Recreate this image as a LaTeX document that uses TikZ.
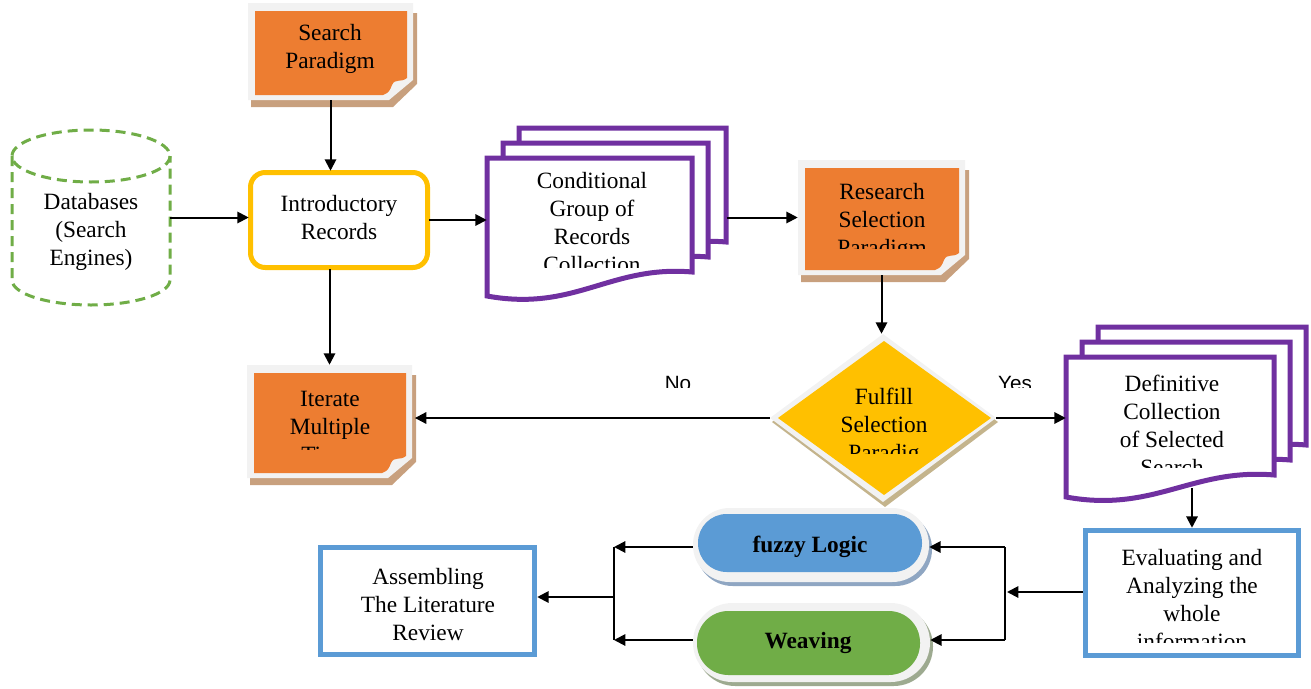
\documentclass[tikz,border=0pt]{standalone}
\usepackage{fontspec}
\setmainfont{Liberation Serif}
\newfontfamily\sansf{Liberation Sans}
\usetikzlibrary{arrows.meta,fit,calc}
\definecolor{orangeN}{HTML}{ED7D31}
\definecolor{goldN}{HTML}{FFC000}
\definecolor{purpleN}{HTML}{7030A0}
\definecolor{greenN}{HTML}{70AD47}
\definecolor{blueN}{HTML}{5B9BD5}
\definecolor{lightg}{HTML}{F2F2F2}
\definecolor{notesh}{HTML}{C8A07E}
\definecolor{diash}{HTML}{C4B48C}
\definecolor{fzsh}{HTML}{8FA6C2}
\definecolor{wvsh}{HTML}{9DAA90}
\tikzset{
  arr/.style={line width=1.5pt,-{Triangle[length=8.5pt,width=8.5pt]}},
  ln/.style={line width=1.5pt},
  txt/.style={align=center,inner sep=0pt,font=\fontsize{17.5}{21}\selectfont},
  btxt/.style={inner sep=0pt,font=\fontsize{17.5}{21}\selectfont\bfseries},
  lbl/.style={inner sep=0pt,font=\sansf\fontsize{15.5}{18}\selectfont},
  docshape/.style={draw=purpleN,fill=white,line width=3.75pt},
  bluebox/.style={draw=blueN,fill=white,line width=3.75pt},
}
\newcommand{\mynote}[5]{%
  \fill[notesh] ({#1+4},{#2+10}) -- ({#3+4},{#2+10}) -- ({#3+4},{#4-16}) -- ({#3-20},{#4+7}) -- ({#1+3},{#4+7}) -- cycle;
  \fill[lightg] (#1,#2) -- (#3,#2) -- ({#3},{#4-20}) -- ({#3-24},{#4}) -- (#1,#4) -- cycle;
  \fill[orangeN] ({#1+7},{#2+8}) -- ({#3-6},{#2+8}) -- ({#3-6},{#4-22})
     .. controls ({#3-12},{#4-17}) and ({#3-18},{#4-22}) .. ({#3-21},{#4-15})
     .. controls ({#3-23},{#4-10}) and ({#3-24},{#4-7}) .. ({#3-30},{#4-5})
     -- ({#1+7},{#4-5}) -- cycle;
  \node[fit={(#1,#2) (#3,#4)},inner sep=0pt] (#5) {};
}
% document shape: x1,y1 (top-left), x2 (right), yR (bottom right), yL (bottom left)
\newcommand{\mydoc}[5]{%
  \path[docshape] (#1,#2) -- (#3,#2) -- (#3,#4)
     .. controls ({#3-82},{#4-7}) and ({#1+88},{#5+16}) .. (#1,#5) -- cycle;
}
\begin{document}
\begin{tikzpicture}[x=0.75pt,y=-0.75pt]
\useasboundingbox (0,0) rectangle (1311,689);

% ---- Search Paradigm
\mynote{248}{3}{413}{100}{sp}
\node[txt] (sptxt) at (330,48.5) {Search\\Paradigm};

% ---- Databases cylinder
\draw[greenN,line width=2.25pt,dash pattern=on 7.5pt off 4.5pt]
  (91,156) ellipse [x radius=79,y radius=26];
\draw[greenN,line width=2.25pt,dash pattern=on 7.5pt off 4.5pt]
  (12,156) -- (12,280) arc[start angle=180,end angle=360,x radius=79,y radius=-25] -- (170,156);
\node[fit={(12,130) (170,305)},inner sep=0pt] (db) {};
\node[txt] (dbtxt) at (91,232) {Databases\\(Search\\Engines)};

% ---- Introductory Records
\draw[goldN,fill=white,line width=3.75pt,rounded corners=11pt] (250.5,172.5) rectangle (427.5,267.5);
\node[fit={(249,171) (429,269)},inner sep=0pt] (intro) {};
\node[txt] (introtxt) at (339,218) {Introductory\\Records};

% ---- Conditional Group stack
\mydoc{519}{128}{726}{242}{266}
\mydoc{503}{143}{708}{257}{281}
\mydoc{487}{158}{692}{272}{296}
\node[fit={(487,128) (727,298)},inner sep=0pt] (cond) {};
\begin{scope}
  \clip (490,160) rectangle (690,267);
  \node[txt] (condtxt) at (592,223) {Conditional\\Group of\\Records\\Collection};
\end{scope}

% ---- Research Selection Paradigm
\mynote{798}{160}{965}{275}{rs}
\begin{scope}
  \clip (807,168) rectangle (958,248);
  \node[txt] (rstxt) at (882,222) {Research\\Selection\\Paradigm};
\end{scope}

% ---- Diamond
\fill[diash] (772,422) -- (885,339) -- (998,422) -- (885,507) -- cycle;
\fill[lightg] (770,418) -- (883,334) -- (996,418) -- (883,502) -- cycle;
\fill[goldN] (778,418) -- (884,341) -- (991,418) -- (884,495) -- cycle;
\node[fit={(770,334) (996,502)},inner sep=0pt] (dia) {};
\begin{scope}
  \clip (800,360) rectangle (970,453);
  \node[txt] (diatxt) at (884,427) {Fulfill\\Selection\\Paradig};
\end{scope}

% ---- Definitive stack
\mydoc{1098}{327}{1306}{445}{467}
\mydoc{1082}{342}{1290}{460}{482}
\mydoc{1066}{357}{1274}{475}{497}
\node[fit={(1066,357) (1274,488)},inner sep=0pt] (def) {};
\begin{scope}
  \clip (1070,360) rectangle (1270,467);
  \node[txt] (deftxt) at (1172,425) {Definitive\\Collection\\of Selected\\Search};
\end{scope}

% ---- Iterate Multiple Times
\mynote{247}{365}{412}{478}{it}
\begin{scope}
  \clip (254,373) rectangle (405,449);
  \node[txt] (ittxt) at (330,427) {Iterate\\Multiple\\Times};
\end{scope}

% ---- Evaluating
\path[bluebox] (1085.5,530.5) rectangle (1298.5,655.5);
\node[fit={(1083,528) (1301,658)},inner sep=0pt] (ev) {};
\begin{scope}
  \clip (1090,533) rectangle (1295,642);
  \node[txt] (evtxt) at (1192,600) {Evaluating and\\Analyzing the\\whole\\information};
\end{scope}

% ---- Assembling
\path[bluebox] (320.5,547.5) rectangle (534.5,654.5);
\node[fit={(318,545) (537,657)},inner sep=0pt] (as) {};
\node[txt] (astxt) at (428,605) {Assembling\\The Literature\\Review};

% ---- fuzzy Logic capsule
\fill[fzsh,rounded corners=27.5pt] (696,512) rectangle (932,586);
\fill[lightg,rounded corners=27.5pt] (693,508) rectangle (929,582);
\fill[blueN,rounded corners=21.5pt] (698,514) rectangle (922,572);
\node[fit={(693,508) (929,582)},inner sep=0pt] (fz) {};
\node[btxt,anchor=base] (fztxt) at (810,552) {fuzzy Logic};

% ---- Weaving capsule
\fill[wvsh,rounded corners=29.5pt] (696,607) rectangle (933,686);
\fill[lightg,rounded corners=29.5pt] (693,603) rectangle (930,682);
\fill[greenN,rounded corners=23.5pt] (697,611) rectangle (920,675);
\node[fit={(693,603) (930,682)},inner sep=0pt] (wv) {};
\node[btxt,anchor=base] (wvtxt) at (808,648) {Weaving};

% ---- labels
\begin{scope}
  \clip (650,365) rectangle (710,387);
  \node[lbl,anchor=base] (no) at (678,390) {No};
\end{scope}
\begin{scope}
  \clip (990,365) rectangle (1030,387);
  \node[lbl,anchor=base] (yes) at (1015,390) {Yes};
\end{scope}

% ---- junction coordinates
\coordinate (j1) at (1007,592);
\coordinate (j1t) at (1005,547);
\coordinate (j1b) at (1005,640);
\coordinate (j2t) at (614,547);
\coordinate (j2b) at (614,640);
\coordinate (j2m) at (614,597);

% ---- connectors
\draw[arr] (sp.south) -- (sp.south |- intro.north);
\draw[arr] (db.east) -- (db.east -| intro.west);
\draw[arr] (intro.east) -- (intro.east -| cond.west);
\draw[arr] (cond.east |- rs.west) -- (rs.west);
\draw[arr] (it.north |- intro.south) -- (it.north);
\draw[arr] (rs.south) -- (rs.south |- dia.north);
\draw[arr] (dia.west) -- ([xshift=2pt]dia.west -| it.east);
\draw[arr] (dia.east) -- (dia.east -| def.west);
\draw[arr] (ev.north |- def.south) -- (ev.north);
\draw[arr] (ev.west |- j1) -- (j1);
\draw[ln] (j1t) -- (j1b);
\draw[arr] (j1t) -- (j1t -| fz.east);
\draw[arr] (j1b) -- (j1b -| wv.east);
\draw[arr] (fz.west |- j2t) -- (j2t);
\draw[arr] (wv.west |- j2b) -- (j2b);
\draw[ln] (j2t) -- (j2b);
\draw[arr] (j2m) -- (j2m -| as.east);
\end{tikzpicture}
\end{document}
